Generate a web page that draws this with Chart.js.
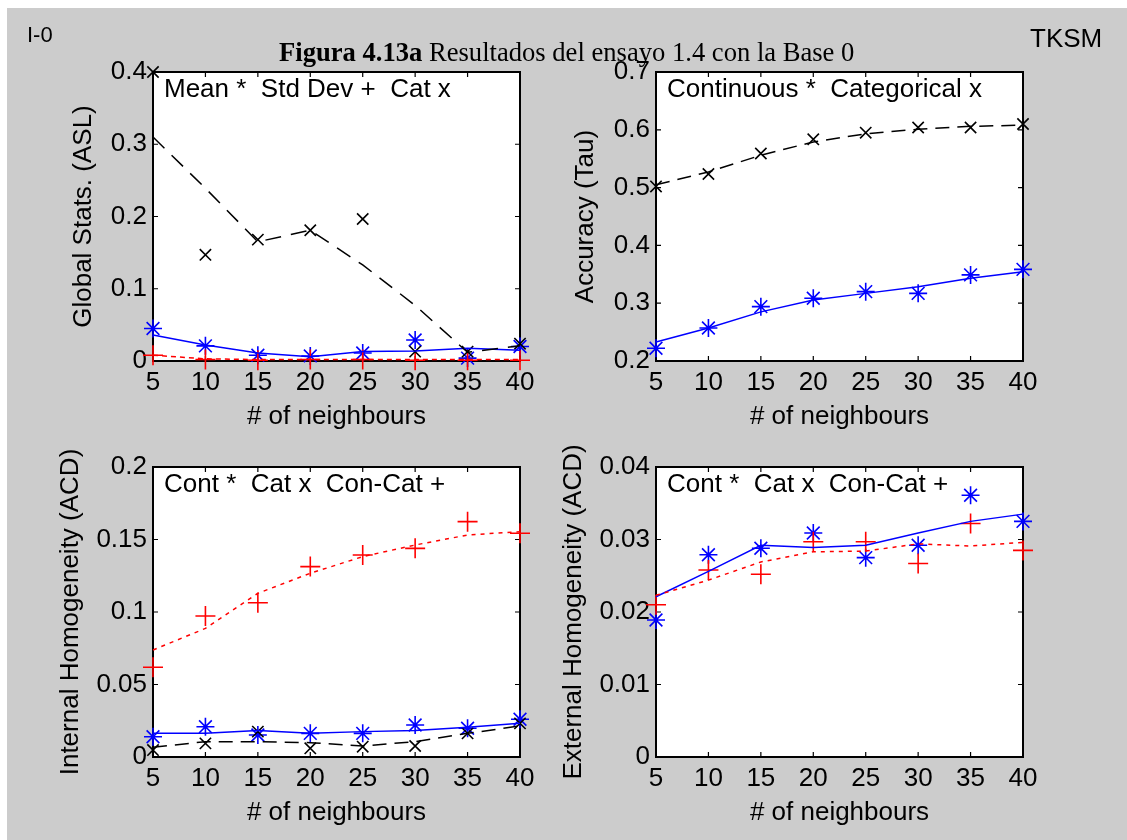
<!DOCTYPE html>
<html>
<head>
<meta charset="utf-8">
<script src="https://cdn.jsdelivr.net/npm/chart.js@4.4.0/dist/chart.umd.min.js"></script>
<style>
html,body{margin:0;padding:0;background:#fff;}
body{width:1127px;height:840px;position:relative;overflow:hidden;font-family:"Liberation Sans",Arial,sans-serif;color:#000;}
#fig{position:absolute;left:7px;top:8px;width:1120px;height:832px;background:#cccccc;}
canvas{position:absolute;}
.txt{position:absolute;white-space:nowrap;z-index:5;}
#title{left:279px;top:39px;font-family:"Liberation Serif","Times New Roman",serif;font-size:26.6px;line-height:27px;}
#tl{left:27px;top:24px;font-size:22px;line-height:22px;}
#tr{left:1030px;top:25px;font-size:26px;line-height:26px;}
</style>
</head>
<body>
<div id="fig"></div>
<canvas id="c1" width="548" height="400" style="left:7px;top:40px;width:548px;height:400px"></canvas>
<canvas id="c2" width="575" height="400" style="left:545px;top:40px;width:575px;height:400px"></canvas>
<canvas id="c3" width="548" height="400" style="left:7px;top:440px;width:548px;height:400px"></canvas>
<canvas id="c4" width="575" height="400" style="left:545px;top:440px;width:575px;height:400px"></canvas>
<div class="txt" id="title"><b>Figura 4.13a</b> Resultados del ensayo 1.4 con la Base 0</div>
<div class="txt" id="tl">I-0</div>
<div class="txt" id="tr">TKSM</div>
<script>
// ---------- data ----------
const neighbours = [5, 10, 15, 20, 25, 30, 35, 40];
const xTickLabels = ['5', '10', '15', '20', '25', '30', '35', '40'];

// Panel 1: Global Stats (ASL)
const p1MeanPts = [0.045, 0.021, 0.008, 0.007, 0.011, 0.029, 0.004, 0.020];
const p1MeanFit = [0.036, 0.022, 0.011, 0.006, 0.013, 0.014, 0.0175, 0.015];
const p1StdPts  = [0.008, 0.002, 0.001, 0.002, 0.002, 0.001, 0.001, 0.001];
const p1StdFit  = [0.008, 0.003, 0.002, 0.002, 0.002, 0.002, 0.002, 0.002];
const p1CatPts  = [0.400, 0.147, 0.168, 0.181, 0.1965, 0.013, 0.013, 0.024];
const p1CatFit  = [0.310, 0.239, 0.165, 0.181, 0.133, 0.077, 0.012, 0.021];
const p1YTicks = [0, 0.1, 0.2, 0.3, 0.4];
const p1YLabels = ['0', '0.1', '0.2', '0.3', '0.4'];

// Panel 2: Accuracy (Tau)
const p2ContPts = [0.222, 0.257, 0.294, 0.3085, 0.320, 0.317, 0.349, 0.3586];
const p2ContFit = [0.233, 0.257, 0.285, 0.3055, 0.317, 0.3286, 0.343, 0.3545];
const p2CatPts  = [0.502, 0.5235, 0.559, 0.5835, 0.595, 0.604, 0.604, 0.610];
const p2CatFit  = [0.505, 0.527, 0.556, 0.579, 0.593, 0.601, 0.606, 0.608];
const p2YTicks = [0.2, 0.3, 0.4, 0.5, 0.6, 0.7];
const p2YLabels = ['0.2', '0.3', '0.4', '0.5', '0.6', '0.7'];

// Panel 3: Internal Homogeneity (ACD)
const p3ContPts = [0.014, 0.0209, 0.0152, 0.0163, 0.0163, 0.0221, 0.0198, 0.026];
const p3ContFit = [0.0163, 0.0163, 0.0182, 0.0163, 0.0175, 0.0182, 0.0205, 0.0232];
const p3CatPts  = [0.0048, 0.0094, 0.0175, 0.006, 0.0071, 0.0076, 0.0163, 0.0232];
const p3CatFit  = [0.0067, 0.0106, 0.0106, 0.0099, 0.0076, 0.0106, 0.0163, 0.0214];
const p3ConCatPts = [0.0619, 0.0972, 0.1064, 0.1313, 0.1393, 0.1439, 0.1623, 0.1543];
const p3ConCatFit = [0.0738, 0.0887, 0.1129, 0.1267, 0.1382, 0.1462, 0.1531, 0.1554];
const p3YTicks = [0, 0.05, 0.1, 0.15, 0.2];
const p3YLabels = ['0', '0.05', '0.1', '0.15', '0.2'];

// Panel 4: External Homogeneity (ACD)
const p4ContPts = [0.0189, 0.0279, 0.0288, 0.0309, 0.0275, 0.0292, 0.0361, 0.0325];
const p4ContFit = [0.0221, 0.0256, 0.0292, 0.0289, 0.0292, 0.0309, 0.0325, 0.0335];
const p4ConCatPts = [0.0210, 0.0258, 0.0252, 0.0297, 0.0297, 0.0267, 0.0322, 0.0285];
const p4ConCatFit = [0.0223, 0.0244, 0.0269, 0.0283, 0.0284, 0.0294, 0.0291, 0.0296];
const p4YTicks = [0, 0.01, 0.02, 0.03, 0.04];
const p4YLabels = ['0', '0.01', '0.02', '0.03', '0.04'];

// ---------- helpers ----------
const FONT = '"Liberation Sans", Arial, sans-serif';
Chart.defaults.font.family = FONT;
Chart.defaults.font.size = 26;
Chart.defaults.color = '#000';

const BLUE = '#0000ff', RED = '#ff0000', BLACK = '#000000';

function pts(vals) { return neighbours.map((x, i) => ({ x: x, y: vals[i] })); }
function markers(label, vals, color, style, r) {
  return { label, data: pts(vals), showLine: false, pointStyle: style, pointRadius: r, pointHoverRadius: r,
           borderColor: color, backgroundColor: color, pointBorderWidth: 1.6, clip: false };
}
function fit(label, vals, color, dash) {
  return { label, data: pts(vals), showLine: true, pointRadius: 0, borderColor: color, borderWidth: 1.5,
           borderDash: dash, tension: 0, clip: false };
}

const framePlugin = {
  id: 'frame',
  beforeDraw(chart) {
    const { ctx, chartArea: a } = chart;
    ctx.save();
    ctx.fillStyle = '#ffffff';
    ctx.fillRect(a.left, a.top, a.right - a.left, a.bottom - a.top);
    ctx.restore();
  },
  beforeDatasetsDraw(chart) {
    const { ctx, chartArea: a, scales } = chart;
    ctx.save();
    ctx.strokeStyle = '#000';
    ctx.lineWidth = 2;
    ctx.strokeRect(a.left, a.top, a.right - a.left, a.bottom - a.top);
    ctx.lineWidth = 1.2;
    const tl = 5;
    ctx.beginPath();
    scales.x.ticks.forEach(t => {
      const px = scales.x.getPixelForValue(t.value);
      ctx.moveTo(px, a.bottom); ctx.lineTo(px, a.bottom - tl);
      ctx.moveTo(px, a.top); ctx.lineTo(px, a.top + tl);
    });
    scales.y.ticks.forEach(t => {
      const py = scales.y.getPixelForValue(t.value);
      ctx.moveTo(a.left, py); ctx.lineTo(a.left + tl, py);
      ctx.moveTo(a.right, py); ctx.lineTo(a.right - tl, py);
    });
    ctx.stroke();
    ctx.restore();
  },
  afterDraw(chart, args, opts) {
    const { ctx, chartArea: a } = chart;
    ctx.save();
    ctx.font = '26px ' + FONT;
    ctx.fillStyle = '#000';
    ctx.textBaseline = 'alphabetic';
    ctx.textAlign = 'left';
    ctx.fillText(opts.note, a.left + 11, a.top + 25);
    ctx.restore();
  }
};

function makeChart(id, c) {
  return new Chart(document.getElementById(id), {
    type: 'scatter',
    data: { datasets: c.datasets },
    options: {
      responsive: false, animation: false, devicePixelRatio: 1,
      events: [],
      layout: { padding: { top: c.padTop, right: c.padRight, left: 0, bottom: 0 } },
      plugins: { legend: { display: false }, tooltip: { enabled: false }, frame: { note: c.note } },
      scales: {
        x: {
          type: 'linear', min: 5, max: 40,
          grid: { display: false, drawTicks: false }, border: { display: false },
          afterBuildTicks: s => { s.ticks = neighbours.map(v => ({ value: v })); },
          ticks: { padding: 6, autoSkip: false, maxRotation: 0, color: '#000',
                   callback: (v, i) => xTickLabels[i] },
          title: { display: true, text: '# of neighbours', color: '#000', padding: { top: 0, bottom: c.xTitlePad } },
          afterFit: s => { s.height = c.xH; }
        },
        y: {
          type: 'linear', min: c.yTicks[0], max: c.yTicks[c.yTicks.length - 1],
          grid: { display: false, drawTicks: false }, border: { display: false },
          afterBuildTicks: s => { s.ticks = c.yTicks.map(v => ({ value: v })); },
          ticks: { padding: 6, autoSkip: false, color: '#000', callback: (v, i) => c.yLabels[i] },
          title: { display: true, text: c.yTitle, color: '#000', padding: { top: c.yTitlePad, bottom: 0 } },
          afterFit: s => { s.width = c.yW; }
        }
      }
    },
    plugins: [framePlugin]
  });
}

makeChart('c1', {
  note: 'Mean *  Std Dev +  Cat x', yTitle: 'Global Stats. (ASL)',
  yTicks: p1YTicks, yLabels: p1YLabels,
  padTop: 32, padRight: 35, xH: 79, yW: 146, yTitlePad: 61, xTitlePad: 8,
  datasets: [
    fit('Cat fit', p1CatFit, BLACK, [16, 10]),
    fit('Std Dev fit', p1StdFit, RED, [5, 4]),
    fit('Mean fit', p1MeanFit, BLUE, []),
    markers('Cat', p1CatPts, BLACK, 'crossRot', 8),
    markers('Std Dev', p1StdPts, RED, 'cross', 10),
    markers('Mean', p1MeanPts, BLUE, 'star', 9)
  ]
});

makeChart('c2', {
  note: 'Continuous *  Categorical x', yTitle: 'Accuracy (Tau)',
  yTicks: p2YTicks, yLabels: p2YLabels,
  padTop: 32, padRight: 97, xH: 79, yW: 111, yTitlePad: 25, xTitlePad: 8,
  datasets: [
    fit('Categorical fit', p2CatFit, BLACK, [14, 8]),
    fit('Continuous fit', p2ContFit, BLUE, []),
    markers('Categorical', p2CatPts, BLACK, 'crossRot', 8),
    markers('Continuous', p2ContPts, BLUE, 'star', 9)
  ]
});

makeChart('c3', {
  note: 'Cont *  Cat x  Con-Cat +', yTitle: 'Internal Homogeneity (ACD)',
  yTicks: p3YTicks, yLabels: p3YLabels,
  padTop: 27, padRight: 35, xH: 83, yW: 146, yTitlePad: 48, xTitlePad: 12,
  datasets: [
    fit('Cat fit', p3CatFit, BLACK, [14, 8]),
    fit('Con-Cat fit', p3ConCatFit, RED, [4, 5]),
    fit('Cont fit', p3ContFit, BLUE, []),
    markers('Cat', p3CatPts, BLACK, 'crossRot', 8),
    markers('Con-Cat', p3ConCatPts, RED, 'cross', 10),
    markers('Cont', p3ContPts, BLUE, 'star', 9)
  ]
});

makeChart('c4', {
  note: 'Cont *  Cat x  Con-Cat +', yTitle: 'External Homogeneity (ACD)',
  yTicks: p4YTicks, yLabels: p4YLabels,
  padTop: 27, padRight: 97, xH: 83, yW: 111, yTitlePad: 13, xTitlePad: 12,
  datasets: [
    fit('Con-Cat fit', p4ConCatFit, RED, [4, 5]),
    fit('Cont fit', p4ContFit, BLUE, []),
    markers('Con-Cat', p4ConCatPts, RED, 'cross', 10),
    markers('Cont', p4ContPts, BLUE, 'star', 9)
  ]
});
</script>
</body>
</html>
